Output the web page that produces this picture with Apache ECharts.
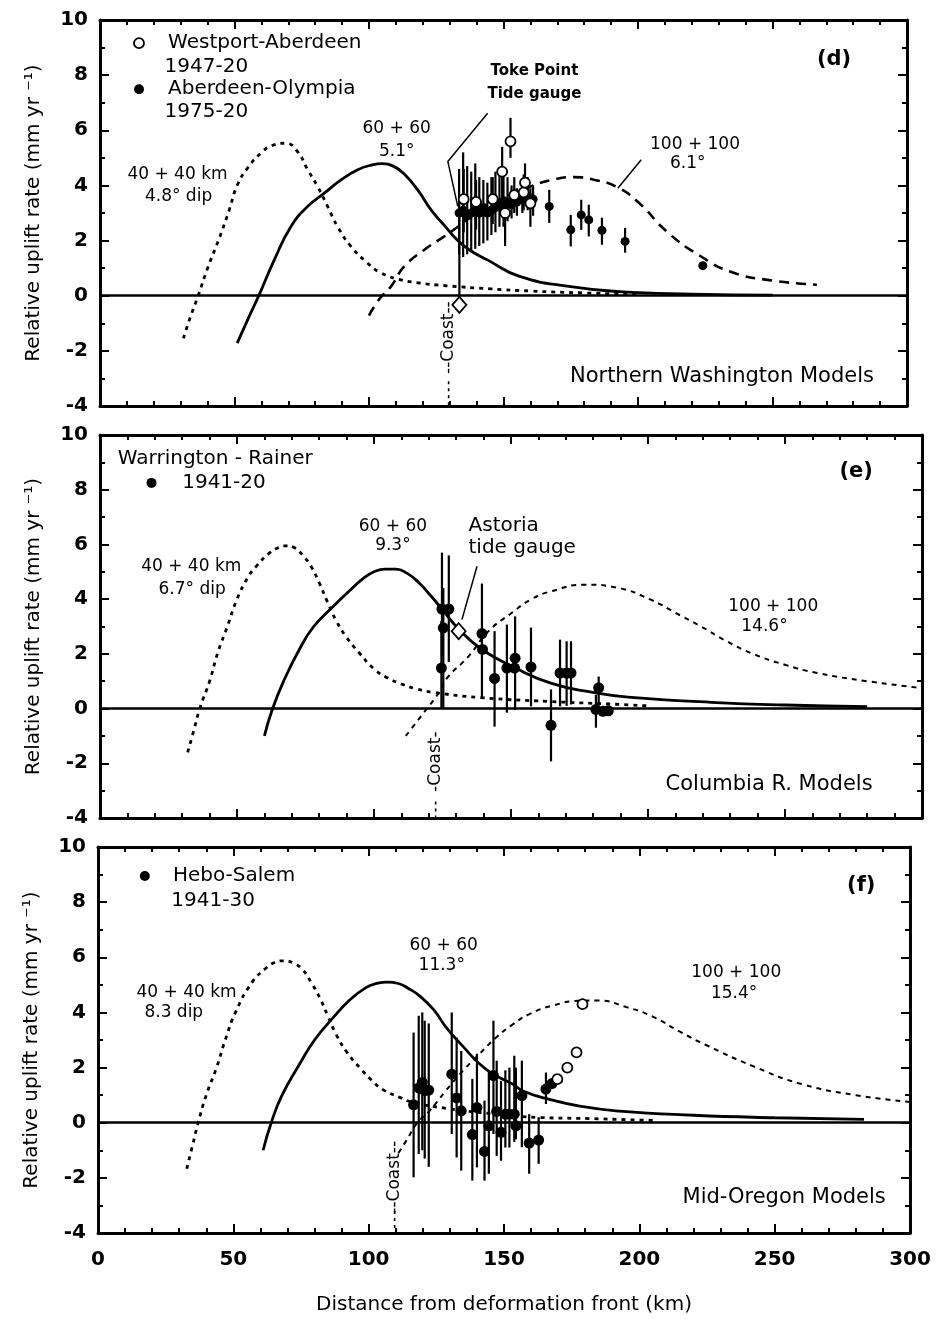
<!DOCTYPE html>
<html><head><meta charset="utf-8">
<script src="https://cdn.jsdelivr.net/npm/echarts@6/dist/echarts.min.js"></script>
<style>html,body{margin:0;padding:0;background:#fff}#c{width:944px;height:1319px}</style>
</head><body><div id="c"></div>
<script>
// ---------- tick labels ----------
const X_TICK_LABELS = [0, 50, 100, 150, 200, 250, 300];
const Y_TICK_LABELS = [-4, -2, 0, 2, 4, 6, 8, 10];

// ---------- Panel (d) Northern Washington ----------
const d_model40 = [[31,-1.55],[33.5,-0.8],[36.5,0],[40,1.0],[44,2.0],[48,3.1],[51,4.0],[55,4.65],[59.8,5.17],[64,5.45],[69,5.53],[73.4,5.23],[77.2,4.57],[80.9,3.96],[84.6,3.24],[88.3,2.51],[93.3,1.79],[99.5,1.18],[104,0.85],[110,0.62],[118,0.47],[129,0.36],[145,0.25],[160,0.17],[180,0.1],[200,0.05]];
const d_model60 = [[51,-1.72],[55,-0.85],[59.2,0.04],[64.8,1.3],[71,2.51],[77.2,3.24],[83.4,3.72],[89.6,4.2],[95.8,4.57],[101,4.74],[105,4.79],[109,4.70],[113,4.42],[118.1,3.84],[123,3.12],[128,2.55],[133,2.0],[137.5,1.65],[144,1.3],[156,0.7],[175,0.33],[193,0.15],[220,0.06],[250,0.02]];
const d_model100 = [[100,-0.72],[104,-0.1],[108.2,0.34],[113.1,1.06],[120.6,1.67],[128,2.15],[133,2.5],[140,3.0],[150,3.55],[160,3.96],[168,4.2],[176,4.3],[184,4.2],[192,3.95],[200,3.4],[211,2.3],[223,1.45],[235,0.85],[250,0.55],[266.5,0.4]];
// [km, rate, lower, upper]
const d_aberdeenOlympia = [
 [133.5,3.0,1.5,4.6],[135.0,3.1,1.4,5.2],[136.5,2.9,1.5,4.7],[138.0,3.0,1.6,4.5],[139.5,3.1,1.7,4.8],
 [141.0,3.0,1.8,4.3],[142.5,3.2,1.9,4.2],[144.0,3.0,2.0,4.1],[145.5,3.1,2.2,4.3],[147.0,3.2,2.3,4.5],
 [148.5,3.3,2.5,4.6],[150.0,3.2,2.5,4.4],[151.5,3.4,2.7,4.3],[153.0,3.3,2.8,4.0],[155.0,3.4,2.9,3.9],
 [157.0,3.5,3.0,4.2],[159.0,3.6,3.1,4.3],[161.0,3.5,2.9,4.0],
 [167.0,3.24,2.64,3.84],[175.0,2.39,1.79,2.93],[178.9,2.93,2.39,3.48],[181.7,2.75,2.15,3.30],
 [186.6,2.37,1.85,2.83],[195.2,1.97,1.56,2.46],[224.1,1.09,1.09,1.09]
];
const d_westportAberdeen = [
 [135.2,3.5,2.3,4.6],[139.8,3.4,2.4,4.2],[146.0,3.5,2.6,4.3],[149.5,4.5,3.2,5.4],[150.6,3.0,1.8,3.6],
 [152.6,5.6,5.0,6.45],[154.0,3.65,3.0,4.3],[157.5,3.75,3.1,4.4],[158.0,4.1,3.6,4.8],[160.0,3.35,2.5,3.9]
];
const d_tideGauge = [[133.6,-0.33,-0.33,3.12]];

// ---------- Panel (e) Columbia R. ----------
const e_model40 = [[32,-1.6],[34.5,-0.7],[36.4,0],[40,1.0],[43,2.05],[46.5,3.0],[50,4.0],[54,4.8],[57,5.2],[62,5.7],[65,5.88],[68,5.95],[71,5.88],[74,5.6],[77,5.2],[80,4.6],[83,3.9],[86,3.25],[90,2.6],[94.5,2.05],[100,1.45],[105,1.12],[110,0.9],[115,0.73],[121,0.6],[139,0.4],[164,0.26],[190,0.15],[200,0.1]];
const e_model60 = [[60,-1.0],[63,0],[67,1.0],[72.7,2.15],[78,3.0],[84.8,3.7],[91,4.3],[96,4.75],[100,5.0],[104,5.1],[108,5.1],[112,4.95],[116.4,4.6],[120.5,4.15],[124.8,3.64],[131,2.9],[139.4,2.16],[151.5,1.49],[164.8,0.92],[179.4,0.6],[192.7,0.42],[225,0.22],[250,0.13],[280,0.07]];
const e_model100 = [[111.6,-1.0],[117,-0.3],[123.6,0.57],[126.7,1.12],[134.5,1.91],[141.8,2.83],[150.3,3.5],[157.5,4.0],[164.8,4.29],[177,4.53],[189,4.41],[201,3.98],[210,3.5],[219.4,3.0],[228,2.5],[237.6,2.03],[250,1.6],[261.8,1.3],[280,1.0],[300,0.75]];
const e_warringtonRainer = [
 [124.8,3.64,1.9,5.7],[127.3,3.64,1.7,5.6],[125.3,2.95,0.0,4.4],[124.6,1.48,0.0,3.2],
 [139.4,2.74,0.4,4.57],[139.6,2.16,2.16,2.16],[144.0,1.10,-0.66,2.83],[148.5,1.48,-0.15,3.07],
 [151.5,1.84,-0.05,3.37],[151.3,1.48,1.48,1.48],[157.3,1.52,0.08,2.96],[164.6,-0.61,-1.93,0.70],
 [167.9,1.30,0.08,2.52],[170.3,1.30,0.10,2.46],[171.9,1.30,0.15,2.46],[182.0,0.76,0.20,1.17],
 [181.0,-0.03,-0.70,0.50],[183.6,-0.10,-0.25,0.10],[185.5,-0.08,-0.20,0.05]
];
const e_tideGauge = [[130.9,2.83,2.83,2.83]];

// ---------- Panel (f) Mid-Oregon ----------
const f_model40 = [[32.8,-1.67],[35,-0.8],[37,0],[40,1.0],[43.8,2.0],[47,3.0],[51,4.05],[57,5.1],[62,5.6],[65,5.8],[68.4,5.87],[72,5.8],[75.6,5.55],[79,5.05],[81.9,4.54],[85,3.85],[88,3.2],[92,2.55],[96.7,2.0],[101,1.55],[105.3,1.2],[111.4,0.92],[116.3,0.74],[128.7,0.52],[147.1,0.31],[163,0.19],[181.5,0.15],[205,0.08]];
const f_model60 = [[61,-1.0],[64,0],[68,1.0],[74.5,2.13],[80,3.0],[86.8,3.8],[93,4.45],[99,4.9],[103,5.05],[107,5.1],[111,5.05],[115,4.85],[118.8,4.6],[124,4.1],[128.7,3.45],[135,2.75],[141,2.13],[146,1.76],[153.2,1.4],[157,1.15],[165.6,0.88],[178,0.6],[192.6,0.42],[220,0.27],[250,0.18],[283,0.12]];
const f_model100 = [[111,-1.1],[113.9,-0.65],[118,0],[122.5,0.43],[128,1.1],[134.8,1.88],[141,2.5],[147.1,3.09],[153,3.55],[159.4,3.94],[168,4.25],[177.9,4.42],[185,4.43],[195,4.2],[205,3.85],[215,3.3],[225,2.8],[242,2.05],[260,1.4],[280,1.0],[300,0.75]];
const f_heboSalem = [
 [116.6,0.65,-1.98,3.27],[118.5,1.26,-1.13,3.88],[119.8,1.46,-1.0,4.0],[120.7,1.16,-1.3,3.7],
 [122.2,1.18,-1.6,3.6],[130.7,1.76,-0.41,4.0],[132.5,0.90,-1.26,3.09],[134.2,0.43,-1.74,2.6],
 [138.3,-0.43,-2.1,1.59],[140.0,0.55,-1.62,2.5],[142.8,-1.04,-2.1,0.8],[144.4,-0.11,-1.85,1.88],
 [146.1,1.71,-0.41,3.7],[147.3,0.41,-1.2,2.25],[148.9,-0.35,-1.38,1.52],[150.5,0.31,-0.9,1.9],
 [152.0,0.31,-0.9,2.0],[153.8,0.31,-0.7,2.43],[154.4,-0.11,-0.6,2.0],[156.6,0.98,-0.89,2.25],
 [159.3,-0.74,-1.85,0.31],[162.8,-0.63,-1.49,0.2],[165.5,1.22,0.68,1.82],[167.7,1.42,1.42,1.42]
];
const f_heboSalemOpen = [[169.7,1.58,1.58,1.58],[173.4,2.0,2.0,2.0],[176.8,2.55,2.55,2.55],[179.0,4.3,4.3,4.3]];

// ---------- annotations (data coordinates) ----------
const d_notes = [
 {x:25.3,y:9.16,t:'Westport-Aberdeen',f:'legend',a:'left'},
 {x:24.0,y:8.31,t:'1947-20',f:'legend',a:'left'},
 {x:25.3,y:7.49,t:'Aberdeen-Olympia',f:'legend',a:'left'},
 {x:24.0,y:6.68,t:'1975-20',f:'legend',a:'left'},
 {x:28.8,y:4.38,t:'40 + 40 km',f:'model'},
 {x:29.2,y:3.60,t:'4.8° dip',f:'model'},
 {x:110.3,y:6.07,t:'60 + 60',f:'model'},
 {x:110.3,y:5.23,t:'5.1°',f:'model'},
 {x:161.5,y:8.13,t:'Toke Point',f:'tide'},
 {x:161.5,y:7.31,t:'Tide gauge',f:'tide'},
 {x:221.2,y:5.47,t:'100 + 100',f:'model'},
 {x:218.5,y:4.80,t:'6.1°',f:'model'},
 {x:272.9,y:8.55,t:'(d)',f:'panel'},
 {x:231.2,y:-2.92,t:'Northern Washington Models',f:'region'},
 {x:129.6,y:-1.52,t:'--Coast--',f:'coast',r:1}
];
const d_legendOpen = [[14.5,9.16]];
const d_legendFilled = [[14.5,7.49]];
const d_leaders = [[[144.1,6.62],[129.3,4.87],[133,3.24]], [[201.2,4.93],[192.5,3.9]]];
const d_coast = [[129.6,-3.1],[129.6,-4]];

const e_notes = [
 {x:6.5,y:9.12,t:'Warrington - Rainer',f:'legend',a:'left'},
 {x:30.0,y:8.25,t:'1941-20',f:'legend',a:'left'},
 {x:33.3,y:5.20,t:'40 + 40 km',f:'model'},
 {x:33.6,y:4.35,t:'6.7° dip',f:'model'},
 {x:106.9,y:6.65,t:'60 + 60',f:'model'},
 {x:106.9,y:5.95,t:'9.3°',f:'model'},
 {x:134.5,y:6.69,t:'Astoria',f:'legend',a:'left'},
 {x:134.5,y:5.87,t:'tide gauge',f:'legend',a:'left'},
 {x:245.7,y:3.74,t:'100 + 100',f:'model'},
 {x:242.5,y:3.00,t:'14.6°',f:'model'},
 {x:276.0,y:8.67,t:'(e)',f:'panel'},
 {x:244.2,y:-2.78,t:'Columbia R. Models',f:'region'},
 {x:122.5,y:-1.94,t:'-Coast-',f:'coast',r:1}
];
const e_legendFilled = [[18.8,8.25]];
const e_leaders = [[[137.6,5.2],[132.1,3.25]]];
const e_coast = [[122.5,-3.4],[122.5,-4]];

const f_notes = [
 {x:27.7,y:8.95,t:'Hebo-Salem',f:'legend',a:'left'},
 {x:27.1,y:8.04,t:'1941-30',f:'legend',a:'left'},
 {x:32.7,y:4.72,t:'40 + 40 km',f:'model'},
 {x:28.0,y:4.00,t:'8.3 dip',f:'model'},
 {x:127.7,y:6.41,t:'60 + 60',f:'model'},
 {x:127.0,y:5.69,t:'11.3°',f:'model'},
 {x:235.8,y:5.43,t:'100 + 100',f:'model'},
 {x:235.0,y:4.67,t:'15.4°',f:'model'},
 {x:282.0,y:8.59,t:'(f)',f:'panel'},
 {x:253.5,y:-2.72,t:'Mid-Oregon Models',f:'region'},
 {x:109.6,y:-1.98,t:'--Coast--',f:'coast',r:1}
];
const f_legendFilled = [[17.3,8.95]];
const f_coast = [[109.6,-3.2],[109.6,-4]];

// ---------- styles ----------
const FONTS = {
  legend: '20px "DejaVu Sans"',
  model: '17px "DejaVu Sans"',
  tide: 'bold 15px "DejaVu Sans"',
  panel: 'bold 21px "DejaVu Sans"',
  region: '21px "DejaVu Sans"',
  coast: '17px "DejaVu Sans"'
};

const panels = [
  {grid:{left:100,top:20,width:807,height:386}, m40:d_model40, m60:d_model60, m100:d_model100, dash100:[10,7], w100:2.6,
   filled:d_aberdeenOlympia, open:d_westportAberdeen, diamond:d_tideGauge, notes:d_notes,
   legFilled:d_legendFilled, legOpen:d_legendOpen, leaders:d_leaders, coast:d_coast, dotSize:9, last:false},
  {grid:{left:100,top:435,width:822,height:383}, m40:e_model40, m60:e_model60, m100:e_model100, dash100:[5,5], w100:2,
   filled:e_warringtonRainer, open:[], diamond:e_tideGauge, notes:e_notes,
   legFilled:e_legendFilled, legOpen:[], leaders:e_leaders, coast:e_coast, dotSize:11, last:false},
  {grid:{left:98,top:847,width:812,height:386}, m40:f_model40, m60:f_model60, m100:f_model100, dash100:[5,5], w100:2,
   filled:f_heboSalem, open:f_heboSalemOpen, diamond:[], notes:f_notes,
   legFilled:f_legendFilled, legOpen:[], leaders:[], coast:f_coast, dotSize:11, last:true}
];

const BLACK = '#000';
const FAM = 'DejaVu Sans';

function xAxisDef(gi, pos, showLabels, withName){
  return {
    type:'value', gridIndex:gi, position:pos,
    min:X_TICK_LABELS[0], max:X_TICK_LABELS[X_TICK_LABELS.length-1],
    interval:X_TICK_LABELS[1]-X_TICK_LABELS[0],
    axisLine:{show:true, onZero:false, lineStyle:{color:BLACK, width:3}},
    axisTick:{show:true, inside:true, length:9, lineStyle:{color:BLACK, width:2}},
    minorTick:{show:true, splitNumber:5, length:5, lineStyle:{color:BLACK, width:2}},
    splitLine:{show:false}, minorSplitLine:{show:false},
    axisLabel:{show:showLabels, margin:17, color:BLACK, fontSize:20, fontWeight:'bold', fontFamily:FAM},
    name: withName ? 'Distance from deformation front (km)' : '',
    nameLocation:'middle', nameGap:62,
    nameTextStyle:{color:BLACK, fontSize:20, fontFamily:FAM}
  };
}
function yAxisDef(gi, pos, showLabels){
  return {
    type:'value', gridIndex:gi, position:pos,
    min:Y_TICK_LABELS[0], max:Y_TICK_LABELS[Y_TICK_LABELS.length-1],
    interval:Y_TICK_LABELS[1]-Y_TICK_LABELS[0],
    axisLine:{show:true, onZero:false, lineStyle:{color:BLACK, width:3}},
    axisTick:{show:true, inside:true, length:9, lineStyle:{color:BLACK, width:2}},
    minorTick:{show:true, splitNumber:2, length:5, lineStyle:{color:BLACK, width:2}},
    splitLine:{show:false}, minorSplitLine:{show:false},
    axisLabel:{show:showLabels, margin:12, color:BLACK, fontSize:20, fontWeight:'bold', fontFamily:FAM},
    name: showLabels ? 'Relative uplift rate (mm yr \u207B\u00B9)' : '',
    nameLocation:'middle', nameGap:56,
    nameTextStyle:{color:BLACK, fontSize:20, fontFamily:FAM}
  };
}

const grids = [], xAxes = [], yAxes = [], series = [];

panels.forEach((p, i) => {
  grids.push(p.grid);
  xAxes.push(xAxisDef(i, 'bottom', p.last, p.last));
  xAxes.push(xAxisDef(i, 'top', false, false));
  yAxes.push(yAxisDef(i, 'left', true));
  yAxes.push(yAxisDef(i, 'right', false));
  const xi = 2*i, yi = 2*i;
  const base = {xAxisIndex:xi, yAxisIndex:yi};

  series.push(Object.assign({type:'line', data:p.m40, smooth:0.5, symbol:'none', z:3,
    lineStyle:{color:BLACK, width:2.8, type:[4,5]},
    markLine:{silent:true, symbol:'none', label:{show:false}, lineStyle:{color:BLACK, width:2.5, type:'solid'},
      data:[{yAxis:0}]}}, base));
  series.push(Object.assign({type:'line', data:p.m60, smooth:0.5, symbol:'none', z:3,
    lineStyle:{color:BLACK, width:2.8, type:'solid'}}, base));
  series.push(Object.assign({type:'line', data:p.m100, smooth:0.5, symbol:'none', z:3,
    lineStyle:{color:BLACK, width:p.w100, type:p.dash100}}, base));
  series.push(Object.assign({type:'line', data:p.coast, symbol:'none', z:3,
    lineStyle:{color:BLACK, width:1.6, type:[3,4]}}, base));
  p.leaders.forEach(L => series.push(Object.assign({type:'line', data:L, symbol:'none', z:3,
    lineStyle:{color:BLACK, width:1.5}}, base)));

  const bars = p.filled.concat(p.open, p.diamond);
  series.push(Object.assign({type:'custom', z:4, data:bars.map(r => [r[0], r[2], r[3]]),
    encode:{x:0, y:[1,2]},
    renderItem:(params, api) => {
      const a = api.coord([api.value(0), api.value(1)]);
      const b = api.coord([api.value(0), api.value(2)]);
      return {type:'line', shape:{x1:a[0], y1:a[1], x2:b[0], y2:b[1]}, style:{stroke:BLACK, lineWidth:2.2}};
    }}, base));
  series.push(Object.assign({type:'scatter', z:5, data:p.filled.map(r => [r[0], r[1]]), symbol:'circle',
    symbolSize:p.dotSize, itemStyle:{color:BLACK, opacity:1}}, base));
  series.push(Object.assign({type:'scatter', z:6, data:p.open.map(r => [r[0], r[1]]), symbol:'circle',
    symbolSize:10, itemStyle:{color:'#fff', borderColor:BLACK, borderWidth:1.8, opacity:1}}, base));
  series.push(Object.assign({type:'scatter', z:6, data:p.diamond.map(r => [r[0], r[1]]), symbol:'diamond',
    symbolSize:[14,16], itemStyle:{color:'#fff', borderColor:BLACK, borderWidth:1.8, opacity:1}}, base));
  series.push(Object.assign({type:'scatter', z:6, data:p.legFilled, symbol:'circle', symbolSize:10,
    itemStyle:{color:BLACK, opacity:1}}, base));
  series.push(Object.assign({type:'scatter', z:6, data:p.legOpen, symbol:'circle', symbolSize:10,
    itemStyle:{color:'#fff', borderColor:BLACK, borderWidth:1.8, opacity:1}}, base));

  const notes = p.notes;
  series.push(Object.assign({type:'custom', z:7, data:notes.map(n => [n.x, n.y]),
    renderItem:(params, api) => {
      const n = notes[params.dataIndex];
      const pt = api.coord([n.x, n.y]);
      return {type:'text', x:pt[0], y:pt[1], rotation: n.r ? Math.PI/2 : 0,
        style:{text:n.t, font:FONTS[n.f], fill:BLACK,
          align:n.a || 'center', verticalAlign:'middle',
          textAlign:n.a || 'center', textVerticalAlign:'middle'}};
    }}, base));
});

const chart = echarts.init(document.getElementById('c'), null, {renderer:'canvas'});
chart.setOption({animation:false, backgroundColor:'#fff', grid:grids, xAxis:xAxes, yAxis:yAxes, series:series});
</script></body></html>
